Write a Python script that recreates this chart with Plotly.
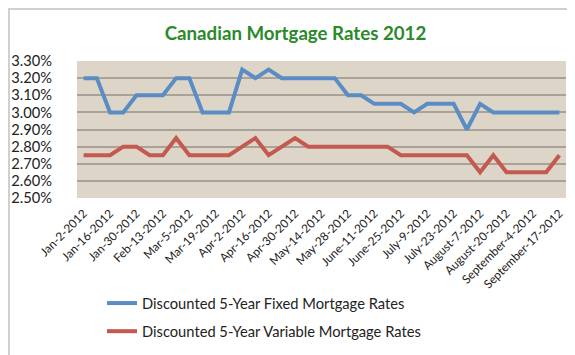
import plotly.graph_objects as go

dates = [
    "Jan-2-2012", "Jan-9-2012", "Jan-16-2012", "Jan-23-2012", "Jan-30-2012", "Feb-6-2012",
    "Feb-13-2012", "Feb-21-2012", "Mar-5-2012", "Mar-12-2012", "Mar-19-2012", "Mar-26-2012",
    "Apr-2-2012", "Apr-9-2012", "Apr-16-2012", "Apr-23-2012", "Apr-30-2012", "May-7-2012",
    "May-14-2012", "May-21-2012", "May-28-2012", "June-4-2012", "June-11-2012", "June-18-2012",
    "June-25-2012", "July-3-2012", "July-9-2012", "July-16-2012", "July-23-2012", "July-30-2012",
    "August-7-2012", "August-13-2012", "August-20-2012", "August-27-2012", "September-4-2012",
    "September-10-2012", "September-17-2012",
]

fixed_rates = [
    3.20, 3.20, 3.00, 3.00, 3.10, 3.10, 3.10, 3.20, 3.20, 3.00, 3.00, 3.00,
    3.25, 3.20, 3.25, 3.20, 3.20, 3.20, 3.20, 3.20, 3.10, 3.10, 3.05, 3.05,
    3.05, 3.00, 3.05, 3.05, 3.05, 2.90, 3.05, 3.00, 3.00, 3.00, 3.00, 3.00, 3.00,
]

variable_rates = [
    2.75, 2.75, 2.75, 2.80, 2.80, 2.75, 2.75, 2.85, 2.75, 2.75, 2.75, 2.75,
    2.80, 2.85, 2.75, 2.80, 2.85, 2.80, 2.80, 2.80, 2.80, 2.80, 2.80, 2.80,
    2.75, 2.75, 2.75, 2.75, 2.75, 2.75, 2.65, 2.75, 2.65, 2.65, 2.65, 2.65, 2.75,
]

y_ticks = [2.50, 2.60, 2.70, 2.80, 2.90, 3.00, 3.10, 3.20, 3.30]
x_tick_labels = dates[::2]

FONT = "Lato, 'Open Sans', sans-serif"
W, H = 575, 355
ML, MR, MT, MB = 69, 17, 53, 165
pw = W - ML - MR
ph = H - MT - MB

fig = go.Figure()
fig.add_trace(go.Scatter(
    x=list(range(len(dates))), y=fixed_rates, mode="lines",
    name="Discounted 5-Year Fixed Mortgage Rates",
    line=dict(color="#5B8DC5", width=4), legendgroup="a",
))
fig.add_trace(go.Scatter(
    x=list(range(len(dates))), y=variable_rates, mode="lines",
    name="Discounted 5-Year Variable Mortgage Rates",
    line=dict(color="#C4594F", width=4), legendgroup="b",
))

fig.update_layout(
    width=W, height=H,
    margin=dict(l=ML, r=MR, t=MT, b=MB, pad=0, autoexpand=False),
    paper_bgcolor="white",
    plot_bgcolor="#DDD5C8",
    font=dict(family=FONT, color="#222222"),
    title=dict(
        text="<b>Canadian Mortgage Rates 2012</b>",
        font=dict(family=FONT, size=18.7, color="#2A8A2A"),
        x=0.5, xanchor="center", xref="container",
        y=1 - 25 / H, yanchor="middle", yref="container",
    ),
    xaxis=dict(
        range=[-0.5, len(dates) - 0.5],
        tickmode="array",
        tickvals=list(range(0, len(dates), 2)),
        ticktext=x_tick_labels,
        tickangle=-45,
        tickfont=dict(size=11.8, family=FONT, color="#222222"),
        ticks="outside", ticklen=3, tickcolor="rgba(0,0,0,0)",
        showgrid=False, zeroline=False, showline=False, automargin=False,
    ),
    yaxis=dict(
        range=[2.5, 3.3],
        tickmode="array",
        tickvals=y_ticks,
        ticktext=[f"{v:.2f}%" for v in y_ticks],
        tickfont=dict(size=14.7, family=FONT, color="#222222"),
        ticks="outside", ticklen=21, tickcolor="rgba(0,0,0,0)",
        showgrid=True, gridcolor="#A9A298", gridwidth=1.5,
        zeroline=False, showline=False, automargin=False,
    ),
    legend=dict(
        x=(94 - ML) / pw, xanchor="left",
        y=-(279 - (H - MB)) / ph, yanchor="top",
        font=dict(size=14.7, family=FONT, color="#222222"),
        traceorder="grouped", tracegroupgap=6,
        bgcolor="rgba(0,0,0,0)",
    ),
    showlegend=True,
)

# outer chart border
fig.add_shape(
    type="rect", xref="paper", yref="paper",
    x0=-(ML - 1) / pw, x1=1 + (MR - 1) / pw,
    y0=-(MB - 1) / ph, y1=1 + (MT - 1) / ph,
    line=dict(color="#D0D0D0", width=2), layer="below",
)

fig.write_html("out.html")
